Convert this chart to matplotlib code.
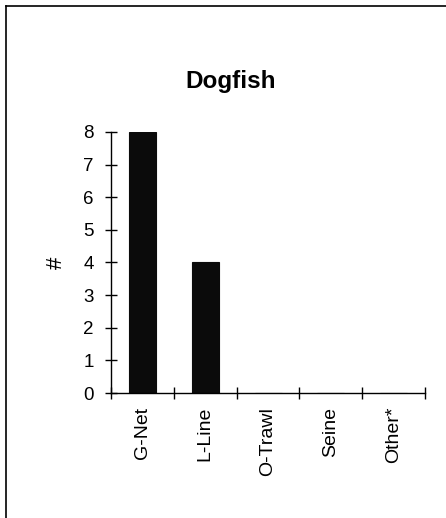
import numpy as np
import matplotlib.pyplot as plt
from matplotlib.lines import Line2D

gear = ["G-Net", "L-Line", "O-Trawl", "Seine", "Other*"]
counts = [8, 4, 0, 0, 0]
y_ticks = [0, 1, 2, 3, 4, 5, 6, 7, 8]

plt.rcParams["font.family"] = ["Liberation Sans", "DejaVu Sans"]

fig = plt.figure(figsize=(4.46, 5.18), dpi=100)
ax = fig.add_axes([0.2489, 0.2413, 0.704, 0.5039])

x = np.arange(len(gear))
ax.bar(x, counts, width=0.43, color="#0b0b0b", edgecolor="#0b0b0b", linewidth=0.8)

ax.set_xlim(-0.5, len(gear) - 0.5)
ax.set_ylim(0, 8)
ax.set_yticks(y_ticks)
ax.set_yticklabels([str(v) for v in y_ticks], fontsize=13.5)

# category labels sit between the boundary ticks
ax.set_xticks(x)
ax.set_xticklabels(gear, rotation=90, fontsize=14)
ax.set_xticks(np.arange(len(gear) + 1) - 0.5, minor=True)
ax.tick_params(axis="x", which="major", length=0, pad=10)
ax.tick_params(axis="x", which="minor", direction="inout", length=8.5, width=1.0)
ax.tick_params(axis="y", direction="inout", length=8.5, width=1.0, pad=8)

for side in ["top", "right"]:
    ax.spines[side].set_visible(False)
for side in ["left", "bottom"]:
    ax.spines[side].set_linewidth(1.0)

ax.set_ylabel("#", fontsize=16, labelpad=12)

fig.text(0.518, 0.830, "Dogfish", ha="center", va="baseline",
         fontsize=17.5, fontweight="bold")

# frame around the chart area
fig.add_artist(Line2D([0.0135, 0.0135], [0.0, 0.988], color="black", lw=1.2))
fig.add_artist(Line2D([0.0135, 1.0], [0.988, 0.988], color="black", lw=1.2))

fig.savefig("out.png", dpi=100)
